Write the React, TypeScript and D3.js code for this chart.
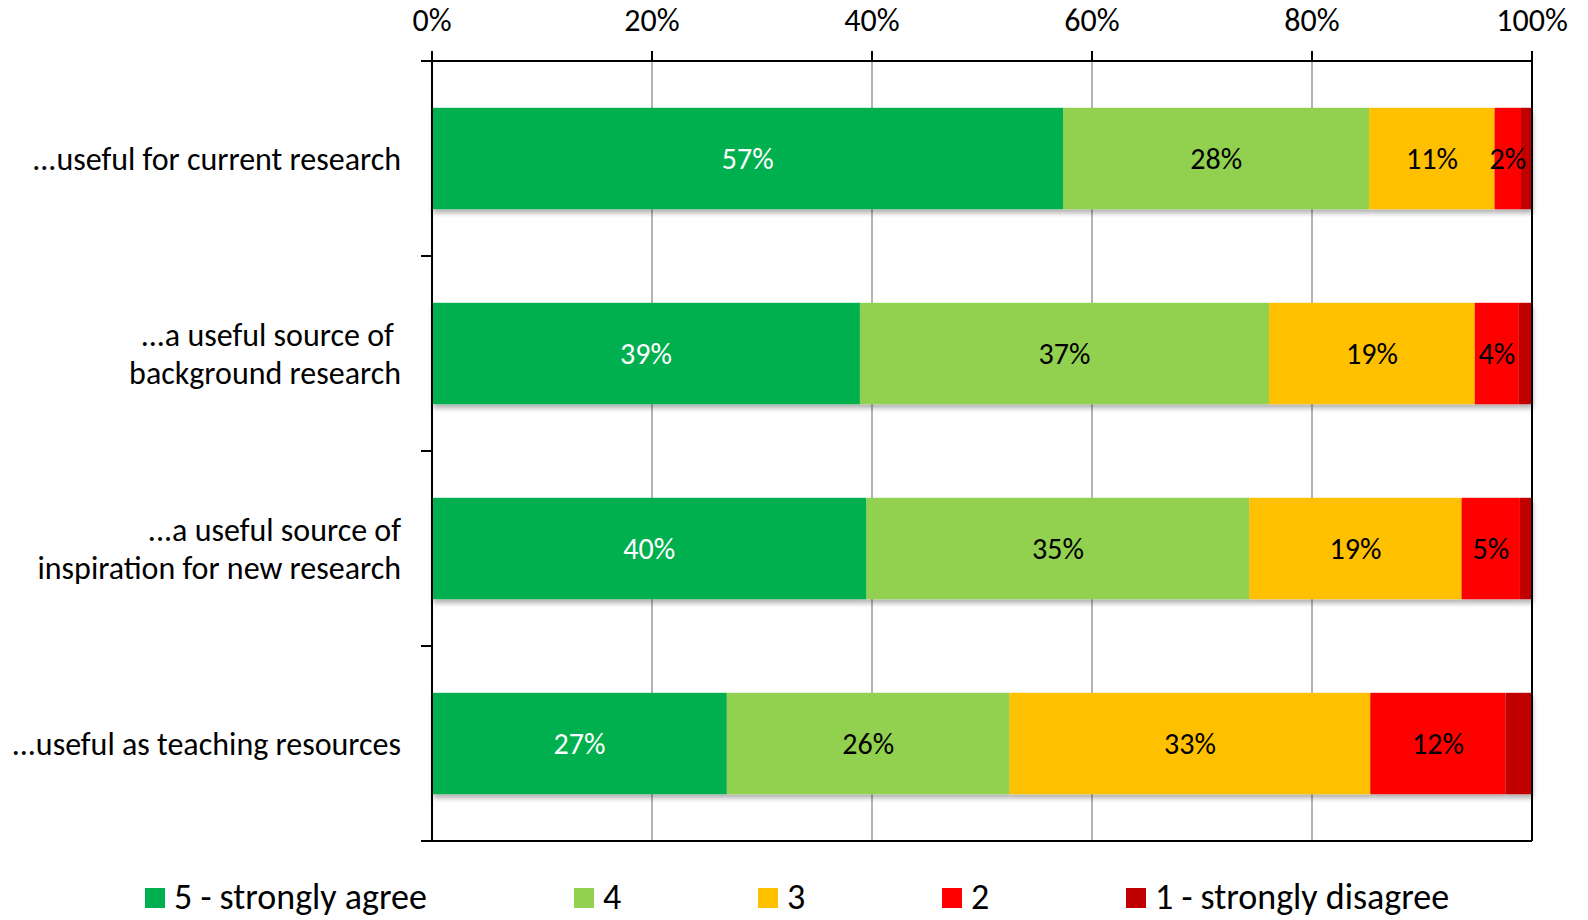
import React, { useEffect, useRef } from "react";
import * as d3 from "d3";

const categories = [
  ["...useful for current research"],
  ["...a useful source of ", "background research"],
  ["...a useful source of", "inspiration for new research"],
  ["...useful as teaching resources"],
];
const seriesNames = ["5 - strongly agree", "4", "3", "2", "1 - strongly disagree"];
const agree5 = [57.4, 38.9, 39.5, 26.8];
const agree4 = [27.8, 37.2, 34.8, 25.7];
const neutral3 = [11.4, 18.7, 19.3, 32.8];
const disagree2 = [2.4, 4.0, 5.3, 12.3];
const disagree1 = [1.0, 1.2, 1.1, 2.4];
const showLabel = [true, true, true, true, false];
const tickValues = [0, 20, 40, 60, 80, 100];

const colors = ["#00B050", "#92D050", "#FFC000", "#FF0000", "#C00000"];
const labelColors = ["#ffffff", "#000000", "#000000", "#000000", "#000000"];
const FONT = "Calibri, 'Open Sans', sans-serif";

const W = 1588;
const H = 920;
const left = 432;
const right = 1532;
const top = 61;
const bottom = 841;

const App = () => {
  const svgRef = useRef<SVGSVGElement | null>(null);

  useEffect(() => {
    const svg = d3.select(svgRef.current);
    svg.selectAll("*").remove();

    const series = [agree5, agree4, neutral3, disagree2, disagree1];
    const rows = categories.map((c, i) => {
      let acc = 0;
      return series.map((s, k) => {
        const seg = { k, i, x0: acc, x1: acc + s[i], v: s[i] };
        acc += s[i];
        return seg;
      });
    });

    const x = d3.scaleLinear().domain([0, 100]).range([left, right]);
    const y = d3
      .scaleBand<number>()
      .domain(categories.map((_, i) => i))
      .range([top, bottom])
      .paddingInner(0.48)
      .paddingOuter(0.24);
    const step = y.step();

    const defs = svg.append("defs");
    const f = defs
      .append("filter")
      .attr("id", "shadow")
      .attr("x", "-5%")
      .attr("y", "-20%")
      .attr("width", "110%")
      .attr("height", "150%");
    f.append("feDropShadow")
      .attr("dx", 1)
      .attr("dy", 4)
      .attr("stdDeviation", 2.5)
      .attr("flood-color", "#000")
      .attr("flood-opacity", 0.3);

    // gridlines
    svg
      .append("g")
      .selectAll("line")
      .data(tickValues.slice(1, -1))
      .join("line")
      .attr("x1", (d) => x(d))
      .attr("x2", (d) => x(d))
      .attr("y1", top)
      .attr("y2", bottom)
      .attr("stroke", "#8c8c8c")
      .attr("stroke-width", 1.3);

    // bars
    const rowG = svg
      .append("g")
      .selectAll("g")
      .data(rows)
      .join("g")
      .attr("filter", "url(#shadow)");

    rowG
      .selectAll("rect")
      .data((d) => d)
      .join("rect")
      .attr("x", (d) => x(d.x0))
      .attr("width", (d) => x(d.x1) - x(d.x0))
      .attr("y", (d) => y(d.i) as number)
      .attr("height", y.bandwidth())
      .attr("fill", (d) => colors[d.k]);

    svg
      .append("g")
      .selectAll("text")
      .data(rows.flat().filter((d) => showLabel[d.k]))
      .join("text")
      .attr("x", (d) => (x(d.x0) + x(d.x1)) / 2)
      .attr("y", (d) => (y(d.i) as number) + y.bandwidth() / 2)
      .attr("dy", "0.36em")
      .attr("text-anchor", "middle")
      .attr("font-family", FONT)
      .attr("font-size", 30)
      .attr("fill", (d) => labelColors[d.k])
      .text((d) => `${Math.round(d.v)}%`);

    // axes
    const axisG = svg.append("g").attr("stroke", "#000").attr("stroke-width", 2);
    axisG.append("line").attr("x1", left - 11).attr("x2", right).attr("y1", top).attr("y2", top);
    axisG.append("line").attr("x1", left - 11).attr("x2", right).attr("y1", bottom).attr("y2", bottom);
    axisG.append("line").attr("x1", left).attr("x2", left).attr("y1", top - 10).attr("y2", bottom);
    axisG.append("line").attr("x1", right).attr("x2", right).attr("y1", top - 10).attr("y2", bottom);
    axisG
      .selectAll(".xt")
      .data(tickValues)
      .join("line")
      .attr("x1", (d) => x(d))
      .attr("x2", (d) => x(d))
      .attr("y1", top - 10)
      .attr("y2", top);
    axisG
      .selectAll(".yt")
      .data(d3.range(categories.length + 1))
      .join("line")
      .attr("x1", left - 11)
      .attr("x2", left)
      .attr("y1", (d) => top + d * step)
      .attr("y2", (d) => top + d * step);

    svg
      .append("g")
      .selectAll("text")
      .data(tickValues)
      .join("text")
      .attr("x", (d) => x(d))
      .attr("y", 31)
      .attr("text-anchor", "middle")
      .attr("font-family", FONT)
      .attr("font-size", 32)
      .text((d) => `${d}%`);

    // category labels
    const catG = svg
      .append("g")
      .selectAll("text")
      .data(categories)
      .join("text")
      .attr("text-anchor", "end")
      .attr("font-family", FONT)
      .attr("font-size", 32)
      .attr("x", 401)
      .attr("y", (_, i) => (y(i) as number) + y.bandwidth() / 2);
    catG
      .selectAll("tspan")
      .data((d) => d.map((t, j) => ({ t, j, n: d.length })))
      .join("tspan")
      .attr("x", 401)
      .attr("dy", (d) => (d.j === 0 ? `${0.36 - (d.n - 1) * 0.6}em` : "1.2em"))
      .style("white-space", "pre")
      .text((d) => d.t);

    // legend
    const legendX = (i: number) => (i === 0 ? 145 : 574 + (i - 1) * 184);
    const leg = svg
      .append("g")
      .selectAll("g")
      .data(seriesNames)
      .join("g")
      .attr("transform", (_, i) => `translate(${legendX(i)},888)`);
    leg
      .append("rect")
      .attr("width", 20)
      .attr("height", 20)
      .attr("fill", (_, i) => colors[i]);
    leg
      .append("text")
      .attr("x", 29)
      .attr("y", 21)
      .attr("font-family", FONT)
      .attr("font-size", 36)
      .text((d) => d);
  }, []);

  return (
    <svg
      ref={svgRef}
      width={W}
      height={H}
      style={{ position: "absolute", left: 0, top: 0, background: "#fff" }}
    />
  );
};

export default App;
